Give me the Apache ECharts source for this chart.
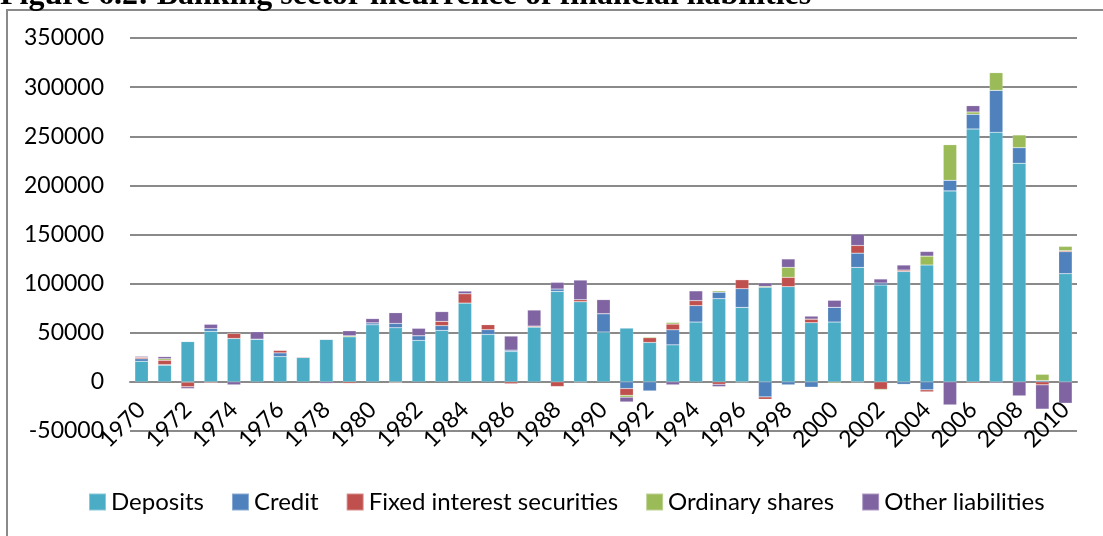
<!DOCTYPE html>
<html>
<head>
<meta charset="utf-8">
<script src="https://cdn.jsdelivr.net/npm/echarts@6/dist/echarts.min.js"></script>
<style>
  html, body { margin: 0; padding: 0; background: #fff; }
  #chart { width: 1103px; height: 536px; }
</style>
</head>
<body>
<div id="chart"></div>
<script>
// 数据
const years = []
for (let y = 1970; y <= 2010; y++) years.push(String(y))

const deposits = [21000, 17000, 41000, 51500, 44200, 43500, 25800, 24800, 43300, 45900,
  58100, 55100, 42200, 52400, 80200, 48300, 30900, 55800, 92100, 81600,
  50700, 54700, 40100, 37700, 60900, 84700, 75800, 96200, 96900, 60200,
  60900, 116500, 98600, 112400, 118900, 194400, 257400, 254000, 222500, 0, 110100]

const credit = [2500, 500, -500, 2700, 0, 0, 3700, 0, 0, 0,
  2000, 4400, 4800, 4800, 0, 4800, 1400, 0, 2400, 0,
  18700, -6800, -9200, 15300, 16700, 6500, 19000, -15300, -3000, -5400,
  15000, 14500, 2000, -2500, -8100, 10800, 14900, 42700, 15900, 1300, 22400]

const fixedInterest = [1500, 4500, -4500, -1000, 5100, 0, 2700, 700, 0, -1500,
  0, -800, 0, 4400, 9500, 5100, -2000, 1000, -4800, 2000,
  0, -6800, 4800, 5800, 5100, -2400, 9200, -2400, 9500, 3700,
  0, 7800, -7500, 1400, -2000, 0, -1000, 0, 0, -3000, 1000]

const ordinaryShares = [0, 1500, 300, 0, 0, 0, 0, 300, 0, 1000,
  0, 0, 0, 0, 0, 500, 0, 0, 0, -500,
  0, -2000, 1000, 1700, 0, 1400, 0, 1000, 10200, 0,
  -1000, -500, -1000, 0, 9100, 36200, 2400, 18000, 12900, 6400, 4400]

const otherLiabilities = [1000, 2200, -1800, 4400, -3000, 7500, 0, 0, -1500, 5100,
  4300, 10900, 7500, 9900, 2700, 0, 14300, 16300, 6800, 20000,
  14300, -4800, 0, -3000, 9900, -2400, -500, 3400, 8500, 3000,
  7100, 11500, 4100, 5100, 4700, -23400, 6400, -1000, -14200, -24700, -21700]

const seriesNames = ["Deposits", "Credit", "Fixed interest securities", "Ordinary shares", "Other liabilities"]
const seriesData = [deposits, credit, fixedInterest, ordinaryShares, otherLiabilities]
const colors = ["#4BACC6", "#4F81BD", "#C0504D", "#9BBB59", "#8064A2"]

const font = "Lato, 'Noto Sans', sans-serif"

// 网格高度 393px，8 格 -> 每格 49.125px；x 轴放到 0 线上
const gridTop = 38
const gridBottom = 105
const zeroOffset = -(536 - gridTop - gridBottom) / 8

const myChart = echarts.init(document.getElementById("chart"))
myChart.setOption({
  backgroundColor: "#ffffff",
  animation: false,
  color: colors,
  graphic: [
    {
      type: "rect",
      shape: { x: 7, y: 10, width: 1200, height: 600 },
      style: { fill: "none", stroke: "#8a8a8a", lineWidth: 2 },
      z: 0,
    },
    {
      type: "text",
      style: {
        x: 0,
        y: 12,
        text: "Figure 6.2: Banking sector incurrence of financial liabilities",
        font: "bold 32px 'Liberation Serif', serif",
        fill: "#000",
        textVerticalAlign: "bottom",
      },
    },
  ],
  legend: {
    data: seriesNames,
    left: 83,
    top: 485,
    itemWidth: 17,
    itemHeight: 17,
    itemGap: 27,
    icon: "rect",
    textStyle: { fontFamily: font, fontSize: 24, color: "#000" },
  },
  grid: {
    left: 130,
    right: 26,
    top: gridTop,
    bottom: gridBottom,
  },
  xAxis: {
    type: "category",
    data: years,
    offset: zeroOffset,
    axisLine: { onZero: false, lineStyle: { color: "#8a8a8a", width: 2 } },
    axisTick: { show: false },
    axisLabel: {
      interval: 1,
      rotate: 45,
      margin: 24,
      fontFamily: font,
      fontSize: 23,
      color: "#000",
    },
  },
  yAxis: {
    type: "value",
    min: -50000,
    max: 350000,
    interval: 50000,
    axisLine: { show: false },
    axisTick: { show: false },
    splitLine: { lineStyle: { color: "#8a8a8a", width: 2 } },
    axisLabel: {
      margin: 26,
      fontFamily: font,
      fontSize: 23,
      color: "#000",
      formatter: (v) => String(v),
    },
  },
  series: seriesNames.map((name, i) => ({
    name: name,
    type: "bar",
    stack: "total",
    data: seriesData[i],
    barCategoryGap: "42%",
    itemStyle: { borderColor: "rgba(255,255,255,0.35)", borderWidth: 0.5 },
  })),
})
</script>
</body>
</html>
